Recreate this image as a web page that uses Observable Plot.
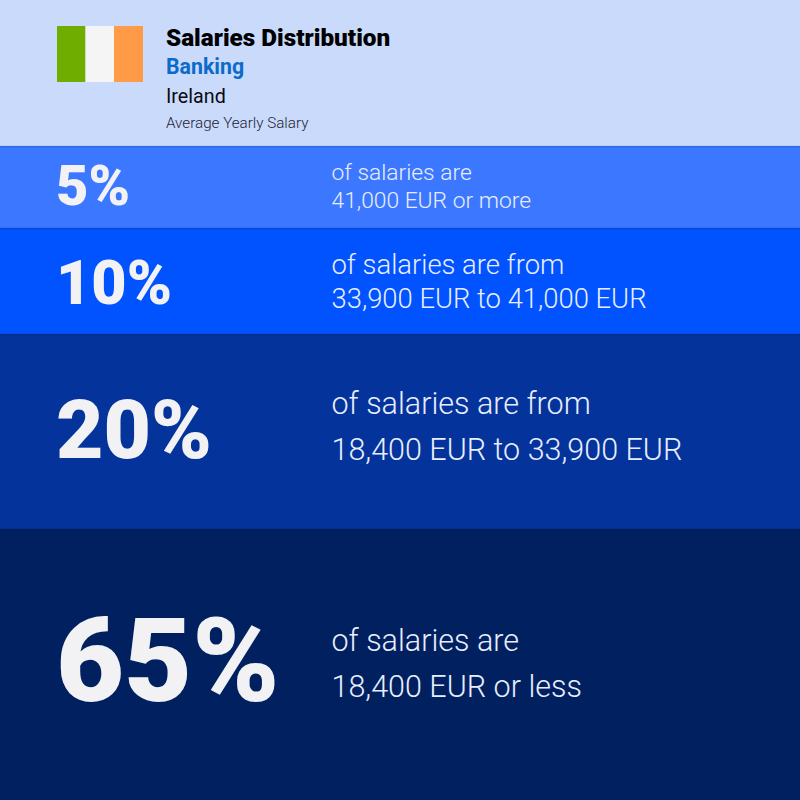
<!DOCTYPE html>
<html><head><meta charset="utf-8">
<style>html,body{margin:0;padding:0;background:#c9dafb}svg{display:block}</style>
<script src="https://cdn.jsdelivr.net/npm/d3@7"></script>
<script src="https://cdn.jsdelivr.net/npm/@observablehq/plot@0.6"></script>
</head><body><div id="chart"></div>
<script>
const shares = ["5%", "10%", "20%", "65%"];
const lineOne = ["of salaries are", "of salaries are from", "of salaries are from", "of salaries are"];
const lineTwo = ["41,000 EUR or more", "33,900 EUR to 41,000 EUR", "18,400 EUR to 33,900 EUR", "18,400 EUR or less"];
const bandTops = [146, 228, 334, 529];
const bandBottoms = [228, 334, 529, 800];
const bandColors = ["#3c78ff", "#0153ff", "#04339c", "#002060"];
const shareSizes = [56, 61, 82, 117.5];
const shareY = [187, 283.5, 431, 663];
const lineSizes = [22.8, 27.4, 30.5, 30.5];
const lineOneY = [172, 265, 404, 641];
const lineTwoY = [200, 299, 450, 687];
const flagColors = ["#6fad00", "#f5f5f5", "#ff9a47"];
const flagEdges = [57, 85.5, 114, 143];
const headerLines = [
  {text: "Salaries Distribution", y: 37.5, size: 24.3, weight: 900, fill: "#000000"},
  {text: "Banking", y: 67, size: 21.3, weight: 700, fill: "#0b6bcb"},
  {text: "Ireland", y: 96, size: 19.7, weight: 400, fill: "#0a0a14"},
  {text: "Average Yearly Salary", y: 123, size: 15.2, weight: 300, fill: "#1c2233"}
];
const bands = shares.map((s, i) => ({s, i, y1: bandTops[i], y2: bandBottoms[i], fill: bandColors[i]}));
const font = "Roboto, sans-serif";
const textMarks = [];
for (const h of headerLines) {
  textMarks.push(Plot.text([h], {x: () => 165.5, y: "y", text: "text", fontSize: h.size, fontWeight: h.weight, fill: "fill", textAnchor: "start", lineAnchor: "middle", fontFamily: font}));
}
for (const b of bands) {
  textMarks.push(Plot.text([b], {x: () => 55.5, y: d => shareY[d.i], text: "s", fontSize: shareSizes[b.i], fontWeight: 900, fill: "#f2f2f4", textAnchor: "start", lineAnchor: "middle", fontFamily: font}));
  textMarks.push(Plot.text([b], {x: () => 331, y: d => lineOneY[d.i], text: d => lineOne[d.i], fontSize: lineSizes[b.i], fontWeight: 300, fill: "#e8eefc", textAnchor: "start", lineAnchor: "middle", fontFamily: font}));
  textMarks.push(Plot.text([b], {x: () => 331, y: d => lineTwoY[d.i], text: d => lineTwo[d.i], fontSize: lineSizes[b.i], fontWeight: 300, fill: "#e8eefc", textAnchor: "start", lineAnchor: "middle", fontFamily: font}));
}
const plot = Plot.plot({
  width: 800, height: 800, margin: 0,
  style: {background: "#c9dafb"},
  x: {domain: [0, 800], range: [0, 800], axis: null},
  y: {domain: [0, 800], range: [0, 800], axis: null},
  marks: [
    Plot.rect(bands, {x1: () => 0, x2: () => 800, y1: "y1", y2: "y2", fill: "fill"}),
    Plot.ruleY(bandTops, {stroke: "#000020", strokeOpacity: 0.12, strokeWidth: 2}),
    Plot.rect(flagColors, {x1: (d, i) => flagEdges[i], x2: (d, i) => flagEdges[i + 1], y1: () => 26, y2: () => 82, fill: d => d}),
    ...textMarks
  ]
});
document.getElementById("chart").append(plot);
</script></body></html>
